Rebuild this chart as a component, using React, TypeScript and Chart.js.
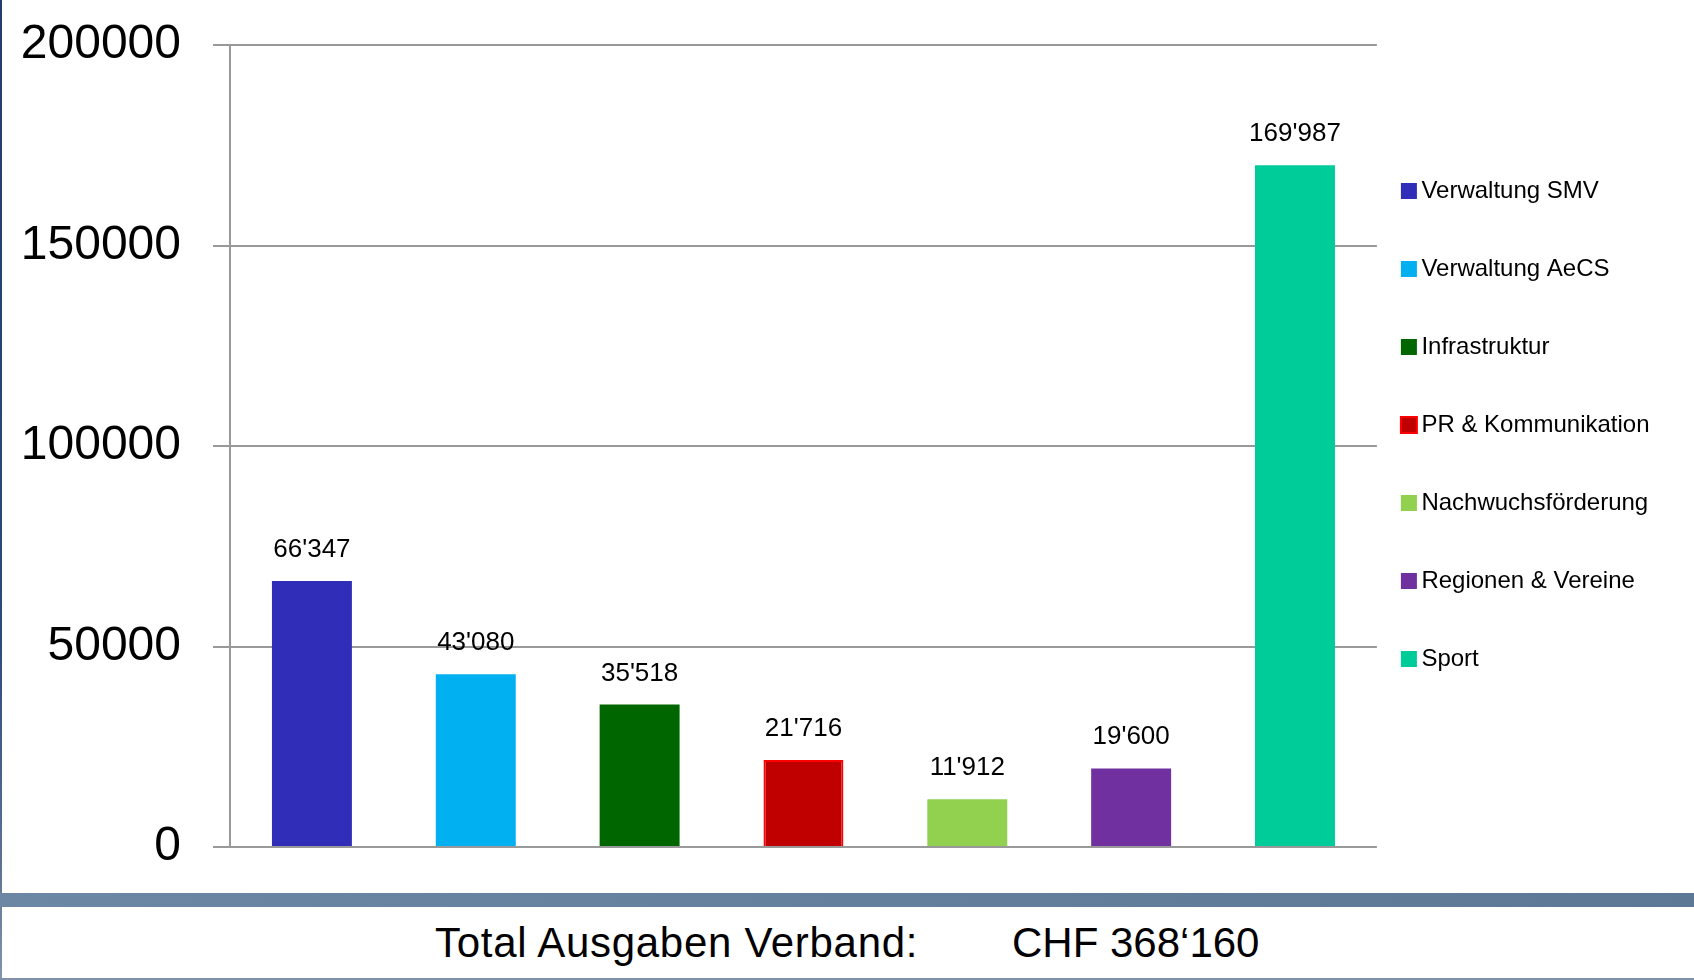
import React, { useEffect, useRef } from "react";
import { Chart, registerables } from "chart.js";

Chart.register(...registerables);

const categories = [
  "Verwaltung SMV",
  "Verwaltung AeCS",
  "Infrastruktur",
  "PR & Kommunikation",
  "Nachwuchsförderung",
  "Regionen & Vereine",
  "Sport",
];
const values = [66347, 43080, 35518, 21716, 11912, 19600, 169987];
const barColors = ["#302DB8", "#00B0F0", "#006600", "#C00000", "#92D050", "#7030A0", "#00CC99"];
const borderColors = ["#302DB8", "#00B0F0", "#006600", "#FF0000", "#92D050", "#7030A0", "#00CC99"];
const borderWidths = [0, 0, 0, 2, 0, 0, 0];
const yTicks = [0, 50000, 100000, 150000, 200000];
const footerLabel = "Total Ausgaben Verband:";
const footerValue = "CHF 368‘160";

const FONT = "'Liberation Sans', Arial, sans-serif";

const fmt = (n: number) => String(n).replace(/\B(?=(\d{3})+(?!\d))/g, "'");

const valueLabels = {
  id: "valueLabels",
  afterDatasetsDraw(chart: any) {
    const ctx = chart.ctx;
    const meta = chart.getDatasetMeta(0);
    ctx.save();
    ctx.font = `26px ${FONT}`;
    ctx.fillStyle = "#000";
    ctx.textAlign = "center";
    ctx.textBaseline = "alphabetic";
    meta.data.forEach((bar: any, i: number) => {
      ctx.fillText(fmt(values[i]), bar.x, bar.y - 24);
    });
    ctx.restore();
  },
};

export default function App() {
  const ref = useRef<HTMLCanvasElement>(null);

  useEffect(() => {
    document.body.style.margin = "0";
    Chart.defaults.font.family = FONT;
    const chart = new Chart(ref.current!, {
      type: "bar",
      data: {
        labels: categories,
        datasets: [
          {
            data: values,
            backgroundColor: barColors,
            borderColor: borderColors,
            borderWidth: borderWidths,
            barPercentage: 0.488,
            categoryPercentage: 1,
          },
        ],
      },
      options: {
        animation: false,
        responsive: false,
        layout: { padding: { left: 21, top: 45, bottom: 46, right: 34.5 } },
        scales: {
          x: { display: false },
          y: {
            min: 0,
            max: 200000,
            afterBuildTicks: (scale: any) => {
              scale.ticks = yTicks.map((v) => ({ value: v }));
            },
            afterFit: (scale: any) => {
              scale.width = 209;
              scale.paddingTop = 0;
              scale.paddingBottom = 0;
            },
            ticks: {
              color: "#000",
              font: { size: 48, family: FONT },
              padding: 32,
              callback: (v: any) => String(v),
            },
            grid: { color: "#999", lineWidth: 2, tickLength: 17, drawTicks: true },
            border: { color: "#999", width: 2 },
          },
        },
        plugins: {
          tooltip: { enabled: false },
          legend: {
            position: "right",
            align: "start",
            onClick: () => {},
            title: { display: true, text: " ", font: { size: 10, lineHeight: 1 }, padding: { top: 92.5, bottom: 0 } },
            labels: {
              color: "#000",
              font: { size: 24, family: FONT, lineHeight: 46.5 / 24 },
              usePointStyle: true,
              pointStyle: "rect",
              boxWidth: 1,
              boxHeight: 16,
              padding: 31.5,
              generateLabels: () =>
                categories.map((c, i) => ({
                  text: [c] as any,
                  fillStyle: barColors[i],
                  strokeStyle: borderColors[i],
                  lineWidth: borderWidths[i],
                  pointStyle: "rect",
                  hidden: false,
                  index: i,
                  datasetIndex: 0,
                  fontColor: "#000",
                })),
            },
          },
        },
      },
      plugins: [valueLabels],
    } as any);
    return () => chart.destroy();
  }, []);

  return (
    <div style={{ position: "relative", width: 1694, height: 980, background: "#fff", overflow: "hidden", fontFamily: FONT }}>
      <canvas ref={ref} width={1694} height={893} style={{ position: "absolute", left: 0, top: 0 }} />
      <div
        style={{
          position: "absolute",
          left: 0,
          top: 0,
          width: 2,
          height: 980,
          background: "linear-gradient(to bottom, #1f3d6d 0%, #2a4a7e 65%, #5b7393 88%, #8194ad 100%)",
        }}
      />
      <div
        style={{
          position: "absolute",
          left: 0,
          top: 893,
          width: 1694,
          height: 14,
          background: "linear-gradient(to right, #6b87a4, #5c7895)",
        }}
      />
      <div style={{ position: "absolute", left: 0, top: 978, width: 1694, height: 2, background: "#7f90a8" }} />
      <div
        style={{
          position: "absolute",
          left: 435,
          top: 919,
          fontSize: 42,
          letterSpacing: "0.7px",
          lineHeight: "48px",
          color: "#000",
          whiteSpace: "nowrap",
        }}
      >
        {footerLabel}
      </div>
      <div style={{ position: "absolute", left: 1012, top: 919, fontSize: 42, lineHeight: "48px", color: "#000", whiteSpace: "nowrap" }}>
        {footerValue}
      </div>
    </div>
  );
}
